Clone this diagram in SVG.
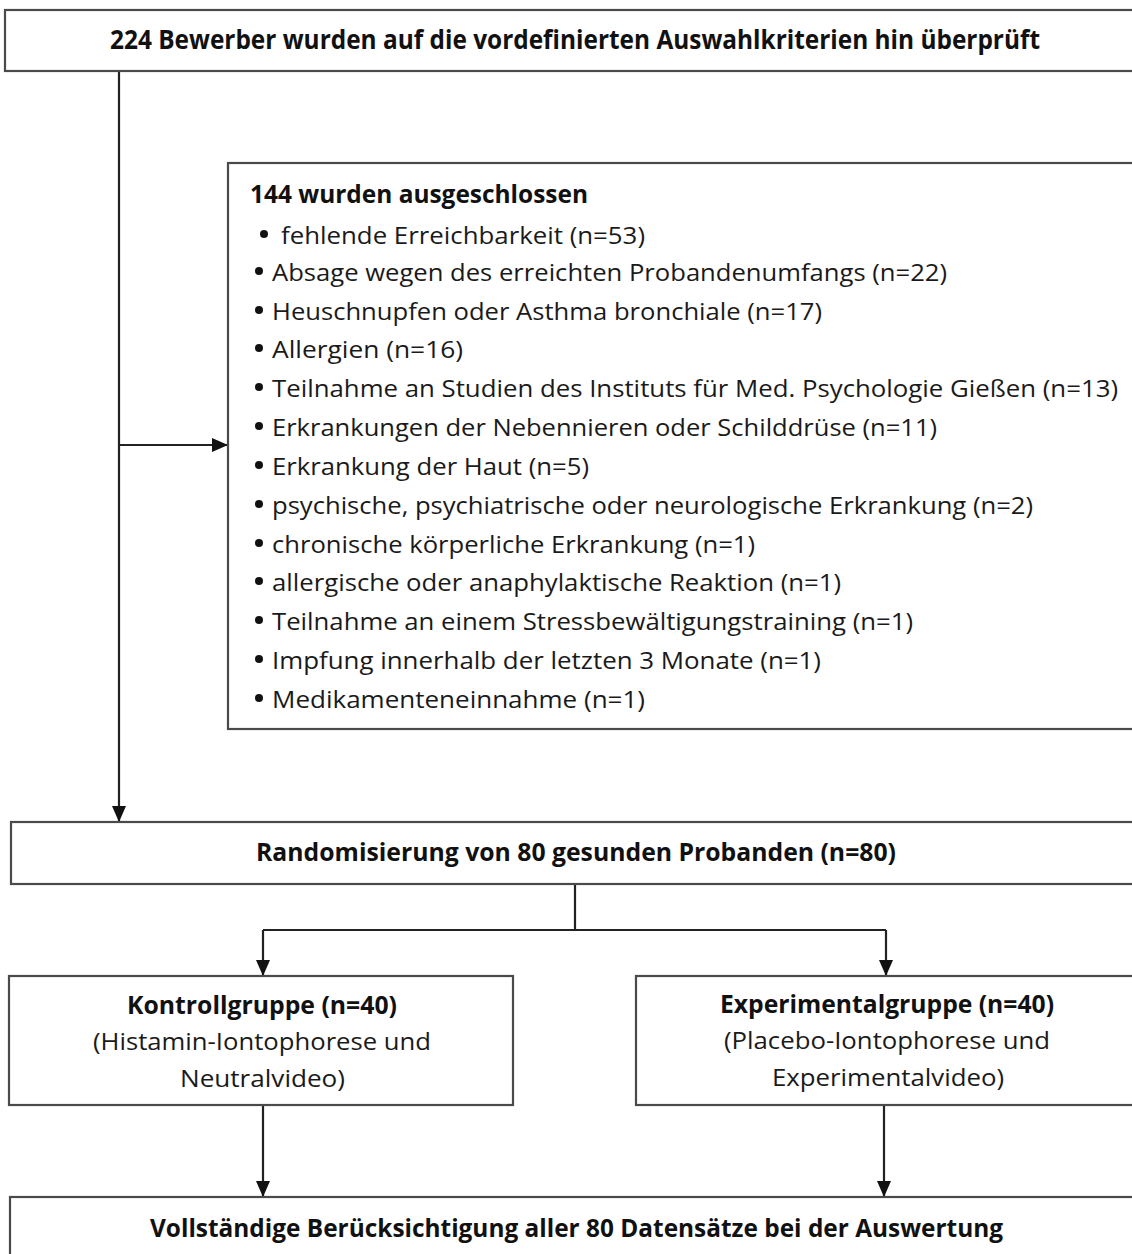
<svg xmlns="http://www.w3.org/2000/svg" width="1132" height="1254" viewBox="0 0 1132 1254">
<style>
.box{fill:#fff;stroke:#4a4a4a;stroke-width:2.2}
.ln{fill:none;stroke:#222;stroke-width:2.2}
.b{font-family:"Open Sans","Liberation Sans",sans-serif;font-weight:bold;font-size:25px;fill:#111}
.r{font-family:"Open Sans","Liberation Sans",sans-serif;font-size:23px;fill:#1a1a1a}
.dot{fill:#111}
</style>
<defs>
<marker id="ah" viewBox="0 0 16 14" refX="16" refY="7" markerWidth="16" markerHeight="14" markerUnits="userSpaceOnUse" orient="auto">
<path d="M0,0 L16,7 L0,14 Z" fill="#111"/>
</marker>
</defs>
<g id="connectors">
<line class="ln" x1="119" y1="71" x2="119" y2="822" marker-end="url(#ah)"/>
<line class="ln" x1="119" y1="445" x2="228" y2="445" marker-end="url(#ah)"/>
<polyline class="ln" points="575,884 575,930"/>
<polyline class="ln" points="263,930 886,930"/>
<line class="ln" x1="263" y1="930" x2="263" y2="976" marker-end="url(#ah)"/>
<line class="ln" x1="886" y1="930" x2="886" y2="976" marker-end="url(#ah)"/>
<line class="ln" x1="263" y1="1105" x2="263" y2="1197" marker-end="url(#ah)"/>
<line class="ln" x1="884" y1="1105" x2="884" y2="1197" marker-end="url(#ah)"/>
</g>
<g id="n_top">
<rect class="box" x="5" y="10" width="1140" height="61"/>
<text class="b" x="110" y="0" transform="translate(0,49) scale(1,1.12)" style="font-size:24px" textLength="930" lengthAdjust="spacingAndGlyphs">224 Bewerber wurden auf die vordefinierten Auswahlkriterien hin überprüft</text>
</g>
<g id="n_excluded">
<rect class="box" x="228" y="163" width="920" height="566"/>
<text class="b" x="250" y="203" textLength="338" lengthAdjust="spacingAndGlyphs">144 wurden ausgeschlossen</text>
<circle class="dot" cx="264" cy="234" r="4"/>
<text class="r" x="281" y="244" textLength="364" lengthAdjust="spacingAndGlyphs">fehlende Erreichbarkeit (n=53)</text>
<circle class="dot" cx="259" cy="271" r="4"/>
<text class="r" x="272" y="281" textLength="675" lengthAdjust="spacingAndGlyphs">Absage wegen des erreichten Probandenumfangs (n=22)</text>
<circle class="dot" cx="259" cy="310" r="4"/>
<text class="r" x="272" y="320" textLength="550" lengthAdjust="spacingAndGlyphs">Heuschnupfen oder Asthma bronchiale (n=17)</text>
<circle class="dot" cx="259" cy="348" r="4"/>
<text class="r" x="272" y="358" textLength="191" lengthAdjust="spacingAndGlyphs">Allergien (n=16)</text>
<circle class="dot" cx="259" cy="387" r="4"/>
<text class="r" x="272" y="397" textLength="846" lengthAdjust="spacingAndGlyphs">Teilnahme an Studien des Instituts für Med. Psychologie Gießen (n=13)</text>
<circle class="dot" cx="259" cy="426" r="4"/>
<text class="r" x="272" y="436" textLength="665" lengthAdjust="spacingAndGlyphs">Erkrankungen der Nebennieren oder Schilddrüse (n=11)</text>
<circle class="dot" cx="259" cy="465" r="4"/>
<text class="r" x="272" y="475" textLength="317" lengthAdjust="spacingAndGlyphs">Erkrankung der Haut (n=5)</text>
<circle class="dot" cx="259" cy="504" r="4"/>
<text class="r" x="272" y="514" textLength="761" lengthAdjust="spacingAndGlyphs">psychische, psychiatrische oder neurologische Erkrankung (n=2)</text>
<circle class="dot" cx="259" cy="543" r="4"/>
<text class="r" x="272" y="553" textLength="483" lengthAdjust="spacingAndGlyphs">chronische körperliche Erkrankung (n=1)</text>
<circle class="dot" cx="259" cy="581" r="4"/>
<text class="r" x="272" y="591" textLength="569" lengthAdjust="spacingAndGlyphs">allergische oder anaphylaktische Reaktion (n=1)</text>
<circle class="dot" cx="259" cy="620" r="4"/>
<text class="r" x="272" y="630" textLength="641" lengthAdjust="spacingAndGlyphs">Teilnahme an einem Stressbewältigungstraining (n=1)</text>
<circle class="dot" cx="259" cy="659" r="4"/>
<text class="r" x="272" y="669" textLength="549" lengthAdjust="spacingAndGlyphs">Impfung innerhalb der letzten 3 Monate (n=1)</text>
<circle class="dot" cx="259" cy="698" r="4"/>
<text class="r" x="272" y="708" textLength="373" lengthAdjust="spacingAndGlyphs">Medikamenteneinnahme (n=1)</text>
</g>
<g id="n_random">
<rect class="box" x="11" y="822" width="1135" height="62"/>
<text class="b" x="256" y="861" textLength="640" lengthAdjust="spacingAndGlyphs">Randomisierung von 80 gesunden Probanden (n=80)</text>
</g>
<g id="n_kontroll">
<rect class="box" x="9" y="976" width="504" height="129"/>
<text class="b" x="127" y="1014" textLength="270" lengthAdjust="spacingAndGlyphs">Kontrollgruppe (n=40)</text>
<text class="r" x="93" y="1050" textLength="338" lengthAdjust="spacingAndGlyphs">(Histamin-Iontophorese und</text>
<text class="r" x="180" y="1087" textLength="165" lengthAdjust="spacingAndGlyphs">Neutralvideo)</text>
</g>
<g id="n_experimental">
<rect class="box" x="636" y="976" width="510" height="129"/>
<text class="b" x="720" y="1013" textLength="334" lengthAdjust="spacingAndGlyphs">Experimentalgruppe (n=40)</text>
<text class="r" x="724" y="1049" textLength="326" lengthAdjust="spacingAndGlyphs">(Placebo-Iontophorese und</text>
<text class="r" x="772" y="1086" textLength="232" lengthAdjust="spacingAndGlyphs">Experimentalvideo)</text>
</g>
<g id="n_bottom">
<rect class="box" x="10" y="1197" width="1136" height="80"/>
<text class="b" x="150" y="1237" textLength="853" lengthAdjust="spacingAndGlyphs">Vollständige Berücksichtigung aller 80 Datensätze bei der Auswertung</text>
</g>
</svg>
